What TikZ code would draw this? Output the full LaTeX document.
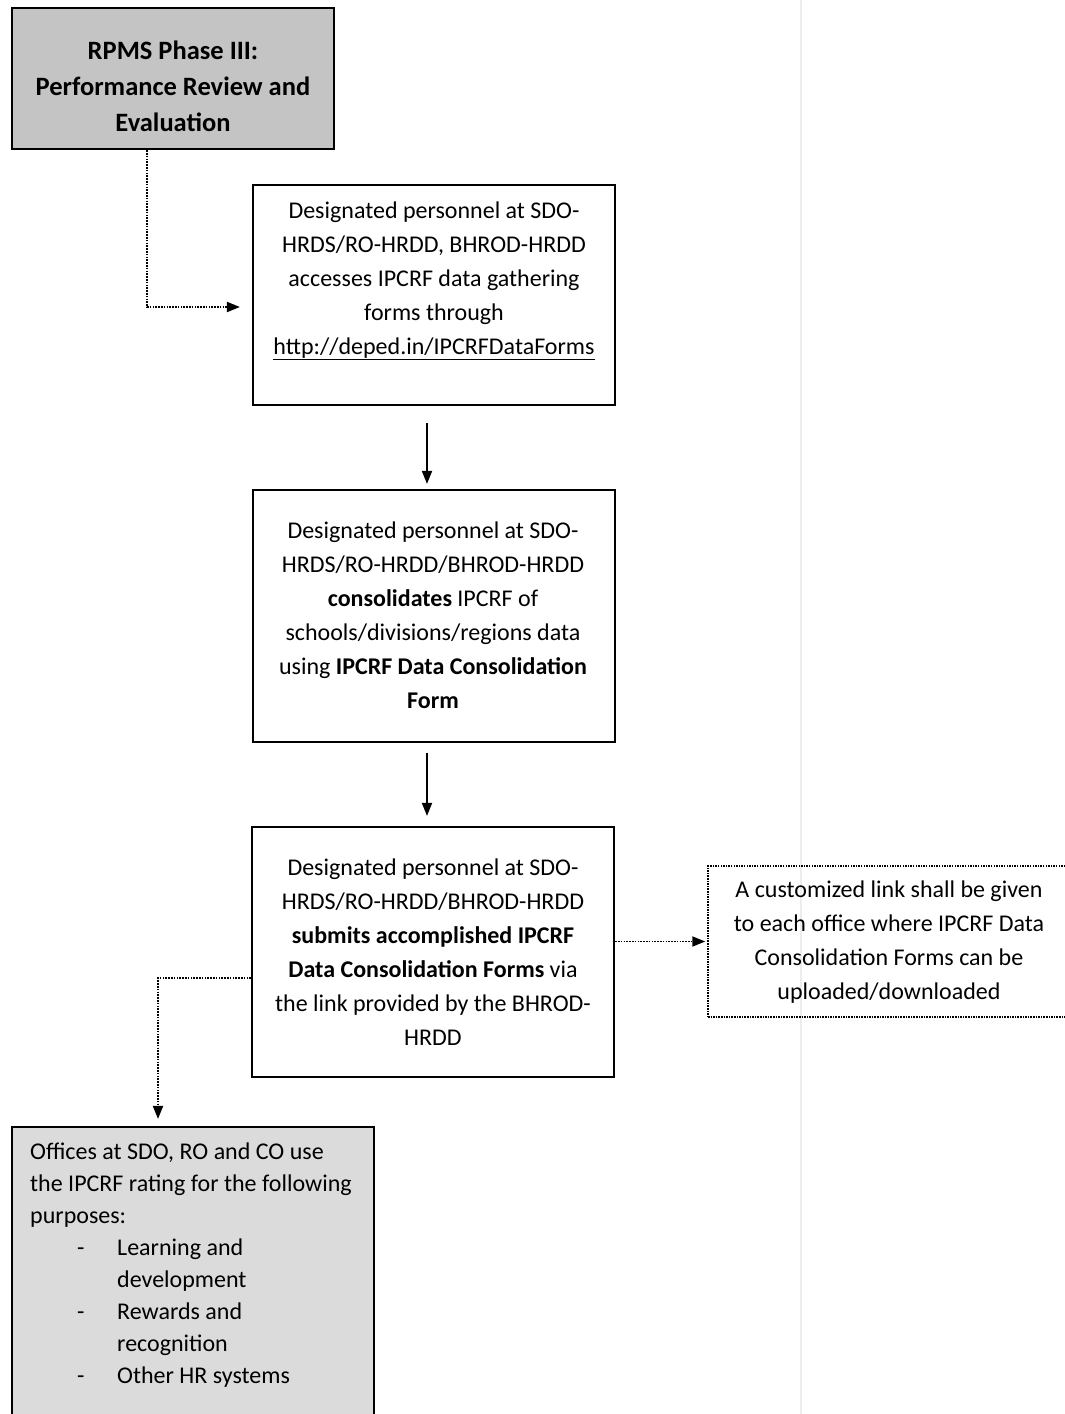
\documentclass[tikz,border=0pt]{standalone}
\usepackage{fontspec}
\setmainfont{Carlito}
\usetikzlibrary{arrows.meta}
\definecolor{darkbox}{gray}{0.77}
\definecolor{lightbox}{gray}{0.86}
\definecolor{fold}{gray}{0.93}
\begin{document}
\begin{tikzpicture}[x=1pt,y=-1pt,
  box/.style={draw, line width=2.2pt, inner sep=0pt},
  dotbox/.style={draw, line width=1.5pt, dash pattern=on 1.5pt off 1.1pt, inner sep=0pt},
  txt/.style={font=\fontsize{24}{34}\selectfont, align=center, inner sep=0pt},
  dotline/.style={line width=1.9pt, dash pattern=on 1.6pt off 1.2pt},
  dottip/.style={-{Triangle[length=13pt,width=10pt]}},
  solidarrow/.style={line width=1.8pt, -{Triangle[length=13pt,width=10pt]}}]
\useasboundingbox (0,0) rectangle (1065,1414);
\clip (0,0) rectangle (1065,1414);
\fill[white] (0,0) rectangle (1065,1414);
\draw[fold, line width=2pt] (801,0) -- (801,1414);

% boxes
\node[box, fill=darkbox, minimum width=322pt, minimum height=141pt] (phase) at (173,78.5) {};
\node[txt, font=\fontsize{26.5}{36}\selectfont\bfseries] (phaset) at (173,86)
  {RPMS Phase III:\\Performance Review and\\Evaluation};

\node[box, minimum width=362pt, minimum height=220pt] (b2) at (434,295) {};
\node[txt] (b2t) at (434,281)
  {Designated personnel at SDO-\\HRDS/RO-HRDD, BHROD-HRDD\\accesses IPCRF data gathering\\forms through\\\underline{http://deped.in/IPCRFDataForms}};

\node[box, minimum width=362pt, minimum height=252pt] (b3) at (434,616) {};
\node[txt] (b3t) at (433,615)
  {Designated personnel at SDO-\\HRDS/RO-HRDD/BHROD-HRDD\\\textbf{consolidates} IPCRF of\\schools/divisions/regions data\\using \textbf{IPCRF Data Consolidation}\\\textbf{Form}};

\node[box, minimum width=362pt, minimum height=250pt] (b4) at (433,952) {};
\node[txt] (b4t) at (433,952)
  {Designated personnel at SDO-\\HRDS/RO-HRDD/BHROD-HRDD\\\textbf{submits accomplished IPCRF}\\\textbf{Data Consolidation Forms} via\\the link provided by the BHROD-\\HRDD};

\node[dotbox, minimum width=367pt, minimum height=151pt] (link) at (891.5,941.5) {};
\node[txt] (linkt) at (889,942)
  {A customized link shall be given\\to each office where IPCRF Data\\Consolidation Forms can be\\uploaded/downloaded};

\node[box, fill=lightbox, minimum width=362pt, minimum height=313pt] (purp) at (193,1283.5) {};
\node[txt, align=left, anchor=west, font=\fontsize{24}{32}\selectfont] (purpt) at (30,1265)
  {Offices at SDO, RO and CO use\\
   the IPCRF rating for the following\\
   purposes:\\
   \hspace*{47pt}\makebox[40pt][l]{-}Learning and\\
   \hspace*{87pt}development\\
   \hspace*{47pt}\makebox[40pt][l]{-}Rewards and\\
   \hspace*{87pt}recognition\\
   \hspace*{47pt}\makebox[40pt][l]{-}Other HR systems};

% connectors
\draw[dotline, dottip, shorten >=12pt] ([xshift=-26pt]phase.south) |- ([yshift=-12pt]b2.west);
\draw[solidarrow, shorten <=17pt, shorten >=5pt] ([xshift=-7pt]b2.south) -- ([xshift=-7pt]b3.north);
\draw[solidarrow, shorten <=10pt, shorten >=10pt] ([xshift=-7pt]b3.south) -- ([xshift=-7pt]b3.south |- b4.north);
\draw[dotline, dottip, shorten >=2pt] (link.west -| b4.east) -- (link.west);
\draw[dotline, dottip, shorten >=7pt] ([yshift=-26pt]b4.west) -| ([xshift=-35pt]purp.north);
\end{tikzpicture}
\end{document}
